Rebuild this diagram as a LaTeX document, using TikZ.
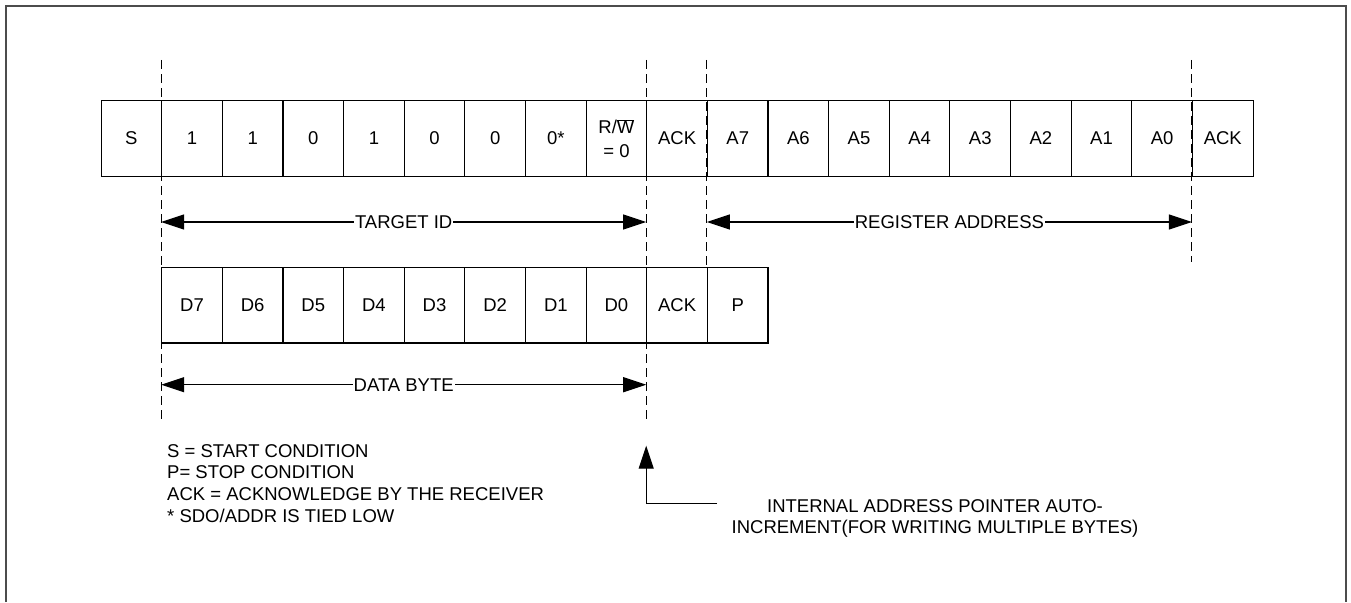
\documentclass[tikz,border=0pt]{standalone}
\usepackage{fontspec}
\setmainfont{Liberation Sans}
\usetikzlibrary{arrows.meta}
\begin{document}
\begin{tikzpicture}[x=1pt,y=-1pt,
  every node/.style={font=\fontsize{18.5}{21.7}\selectfont},
  cell/.style={draw, line width=1.1pt, minimum width=60.63pt, minimum height=75.6pt, inner sep=0pt, align=center},
  guide/.style={dash pattern=on 9pt off 5pt, line width=1.1pt},
  dim/.style={{Triangle[length=23pt,width=15pt]}-{Triangle[length=23pt,width=15pt]}, line width=1.1pt},
  lbl/.style={fill=white, inner sep=1pt},
  pointer/.style={-{Triangle[length=23pt,width=15pt]}, line width=1.1pt}
]
\useasboundingbox (0,0) rectangle (1351,602);
\draw[line width=1.8pt, color=black!70] (5.7,602) -- (5.7,5.7) -- (1346,5.7) -- (1346,602);

% top row
\foreach \t [count=\i from 0] in {S,1,1,0,1,0,0,0*,{R/$\overline{\hbox{W}}$\\[2pt]= 0},ACK,A7,A6,A5,A4,A3,A2,A1,A0,ACK}
  \node[cell] (t\i) at ({101.1+60.63*(\i+0.5)},138.5) {\t};

% data row
\foreach \t [count=\i from 1] in {D7,D6,D5,D4,D3,D2,D1,D0,ACK,P}
  \node[cell] (d\i) at ({101.1+60.63*(\i+0.5)},305.2) {\t};

% dashed guides
\draw[guide] (t1.west |- 0,60) -- (t1.west |- 0,422.7);
\draw[guide] (t9.west |- 0,60) -- (t9.west |- 0,422.7);
\draw[guide] (t10.west |- 0,60) -- (d10.north west);
\draw[guide] (t18.west |- 0,60) -- (t18.west |- 0,261.7);

% dimension arrows
\draw[dim] (t1.west |- 0,222) -- node[lbl] (tid) {TARGET ID} (t9.west |- 0,222);
\draw[dim] (t10.west |- 0,222) -- node[lbl] (reg) {REGISTER ADDRESS} (t18.west |- 0,222);
\draw[dim] (d1.west |- 0,384.7) -- node[lbl] (db) {DATA BYTE} (d9.west |- 0,384.7);

% pointer note
\node[align=center] (note) at (935,518.3) {INTERNAL ADDRESS POINTER AUTO-\\INCREMENT(FOR WRITING MULTIPLE BYTES)};
\coordinate (tail) at (717,503.3);
\draw[pointer] (tail) -- (d9.west |- tail) -- (d9.west |- 0,445.7);

% legend
\node[align=left, anchor=north west, inner sep=0pt] (legend) at (167,444) {S = START CONDITION\\P= STOP CONDITION\\ACK = ACKNOWLEDGE BY THE RECEIVER\\* SDO/ADDR IS TIED LOW};
\end{tikzpicture}
\end{document}
